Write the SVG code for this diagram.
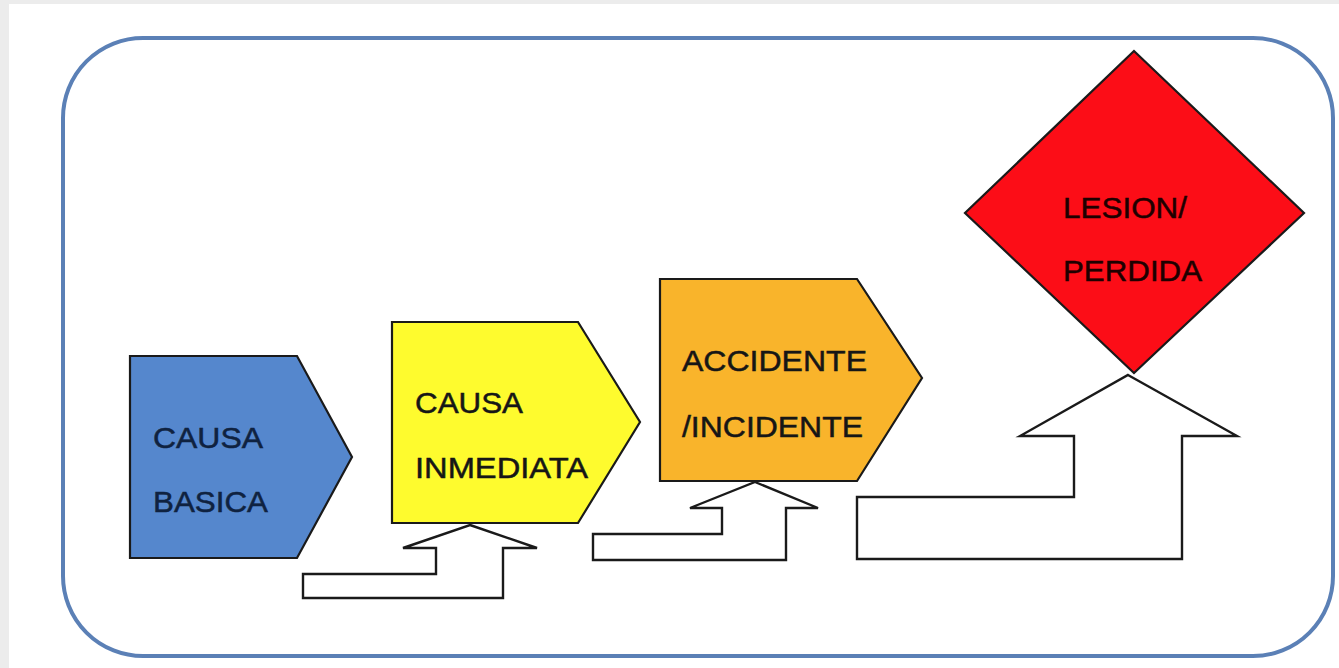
<svg xmlns="http://www.w3.org/2000/svg" width="1339" height="668" viewBox="0 0 1339 668">
<style>
.shape{stroke:#1a1a1a;stroke-width:2.2;stroke-linejoin:miter}
.arrow{fill:#ffffff;stroke:#1a1a1a;stroke-width:2.4;stroke-linejoin:miter}
.lbl{font-family:"Liberation Sans",Arial,sans-serif;font-size:30px;fill:#161616;stroke:#161616;stroke-width:0.5}
.dark{fill:#0f2240;stroke:#0f2240}
.red{fill:#1e0000;stroke:#1e0000}
</style>
<rect x="0" y="0" width="1339" height="668" fill="#ececec"/>
<rect x="9" y="4" width="1330" height="664" fill="#ffffff"/>
<rect id="frame" x="63" y="38" width="1270" height="618" rx="80" ry="80" fill="#ffffff" stroke="#5b80b6" stroke-width="4"/>
<g id="connectors">
<polygon class="arrow" points="470,525 537,548 503,548 503,598 303,598 303,574 436,574 436,548 403,548"/>
<polygon class="arrow" points="755,482 818,508 786,508 786,560 593,560 593,534 722,534 722,508 690,508"/>
<polygon class="arrow" points="1128,375 1237,436 1182,436 1182,559 857,559 857,497 1074,497 1074,436 1020,436"/>
</g>
<g id="causa-basica">
<polygon class="shape" points="130,356 297,356 352,457 297,558 130,558" fill="#5587cd"/>
<text class="lbl dark" x="153" y="448" textLength="110" lengthAdjust="spacingAndGlyphs">CAUSA</text>
<text class="lbl dark" x="153" y="512" textLength="115" lengthAdjust="spacingAndGlyphs">BASICA</text>
</g>
<g id="causa-inmediata">
<polygon class="shape" points="392,322 578,322 640,422 578,523 392,523" fill="#fefb2e"/>
<text class="lbl" x="415" y="413" textLength="108" lengthAdjust="spacingAndGlyphs">CAUSA</text>
<text class="lbl" x="415" y="478" textLength="173" lengthAdjust="spacingAndGlyphs">INMEDIATA</text>
</g>
<g id="accidente">
<polygon class="shape" points="660,279 857,279 922,378 857,481 660,481" fill="#f9b42b"/>
<text class="lbl" x="682" y="371" textLength="185" lengthAdjust="spacingAndGlyphs">ACCIDENTE</text>
<text class="lbl" x="682" y="437" textLength="181" lengthAdjust="spacingAndGlyphs">/INCIDENTE</text>
</g>
<g id="lesion">
<polygon class="shape" points="1134,51 1304,213 1134,373 965,213" fill="#fc0d17"/>
<text class="lbl red" x="1063" y="218" textLength="124" lengthAdjust="spacingAndGlyphs">LESION/</text>
<text class="lbl red" x="1063" y="281" textLength="139" lengthAdjust="spacingAndGlyphs">PERDIDA</text>
</g>
</svg>
